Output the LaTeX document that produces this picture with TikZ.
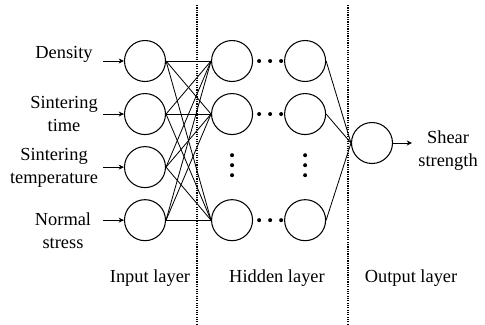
\documentclass[tikz,border=0pt]{standalone}
\usepackage{fontspec}
\setmainfont{Liberation Serif}
\usetikzlibrary{positioning, arrows.meta, calc}

\begin{document}
\begin{tikzpicture}[
		x=0.3mm, y=-0.3mm,
		node distance=3.3mm and 13.5mm,
		font=\fontsize{15.7}{19.5}\selectfont,
		neuron/.style={circle, draw, line width=0.9pt, minimum size=12.3mm, inner sep=0pt},
		txt/.style={align=center, inner sep=1pt},
		link/.style={line width=0.7pt},
		arrow/.style={line width=0.7pt, -{Stealth[length=1.6mm, width=1.5mm]}},
		divider/.style={line width=1pt, densely dotted}
		]
		
		\useasboundingbox (0,0) rectangle (485,324);
		
		% Nodes
		\node[neuron] (in1) at (145,61) {};
		\node[neuron, below=of in1] (in2) {};
		\node[neuron, below=of in2] (in3) {};
		\node[neuron, below=of in3] (in4) {};
		
		\node[neuron, right=of in1] (h1) {};
		\node[neuron, right=of in2] (h2) {};
		\node[neuron, right=of in4] (h4) {};
		\node[neuron, right=9.3mm of h1] (g1) {};
		\node[neuron, right=9.3mm of h2] (g2) {};
		\node[neuron, right=9.3mm of h4] (g4) {};
		
		\node[neuron] (out) at (372,143) {};
		
		% Input labels
		\node[txt] (x1) at (64,54) {Density};
		\node[txt] (x2) at (64,114) {Sintering\\time};
		\node[txt] (x3) at (54,168) {Sintering\\temperature};
		\node[txt] (x4) at (63,231) {Normal\\stress};
		
		% Edges
		\foreach \i in {1,...,4} {
			\coordinate[left=6.3mm of in\i] (a\i);
			\draw[arrow] (a\i) -- (in\i);
			\foreach \j in {1,2,4}
				\draw[link] (in\i.east) -- (h\j.west);
		}
		\foreach \j in {1,2,4}
			\draw[link] (g\j.east) -- (out.west);
		
		% Output
		\coordinate[right=5.7mm of out] (y);
		\draw[arrow] (out) -- (y);
		\node[txt, right=1.5mm of y, yshift=-2.4mm] (ylab) {Shear\\strength};
		
		% Ellipsis dots
		\foreach \j in {1,2,4}
			\foreach \d in {-11,0,11}
				\fill ($(h\j.east)!0.55!(g\j.west)$) ++(\d,0) circle[radius=0.6mm];
		\foreach \c in {h,g}
			\foreach \d in {-10,0,10}
				\fill ($(\c2.south)!0.47!(\c4.north)$) ++(0,\d) circle[radius=0.6mm];
		
		% Layer dividers
		\draw[divider] (197,5) -- (197,324);
		\draw[divider] (348,5) -- (348,324);
		
		\node[txt] (l1) at (150,278) {Input layer};
		\node[txt] (l2) at (277,278) {Hidden layer};
		\node[txt] (l3) at (411,278) {Output layer};
		
	\end{tikzpicture}
\end{document}
